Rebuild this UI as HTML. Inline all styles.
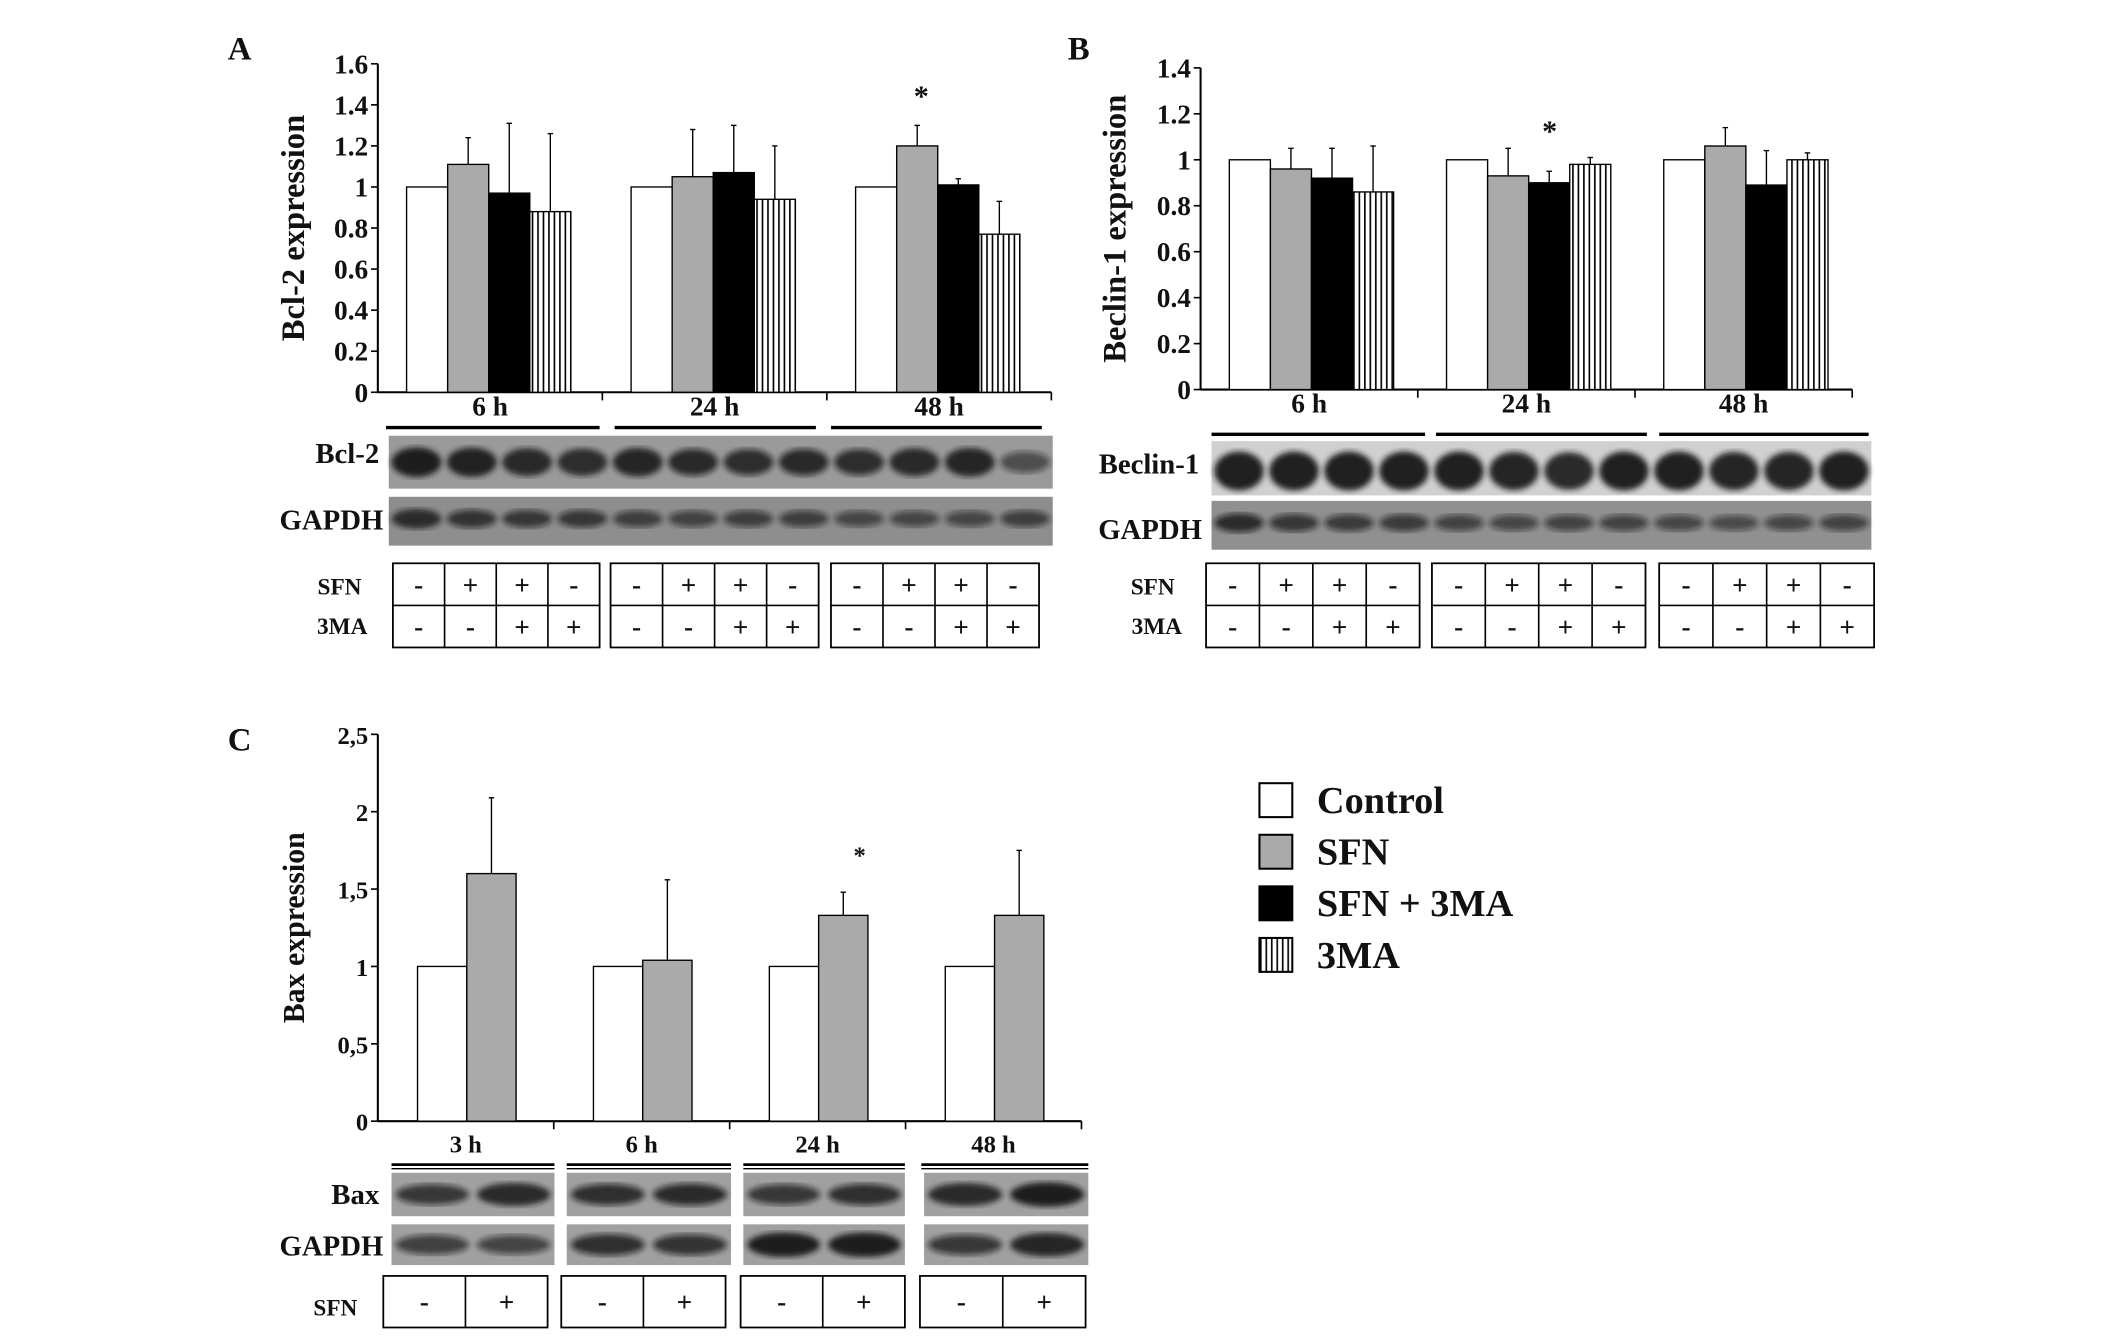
<!DOCTYPE html>
<html><head><meta charset="utf-8">
<style>
html,body{margin:0;padding:0;background:#fff;}
svg{display:block;}
text{font-family:"Liberation Serif",serif;font-weight:bold;fill:#111;}
</style></head>
<body>
<svg id="fig" width="2126" height="1337" viewBox="0 0 1553 985" preserveAspectRatio="none" xmlns="http://www.w3.org/2000/svg">
<defs>
<pattern id="hatch" patternUnits="userSpaceOnUse" width="4" height="10">
<rect width="4" height="10" fill="#fff"/><line x1="1" y1="0" x2="1" y2="10" stroke="#000" stroke-width="1.2"/>
</pattern>
<filter id="blur"><feGaussianBlur stdDeviation="2.2"/></filter>
</defs>
<g id="root"></g>
</svg>
<script>
// ---- data ----
const groupsA = ["6  h","24  h","48  h"];
const meansA = [[1,1.11,0.97,0.88],[1,1.05,1.07,0.94],[1,1.20,1.01,0.77]];
const errTopA = [[null,1.24,1.31,1.26],[null,1.28,1.30,1.20],[null,1.30,1.04,0.93]];
const ticksA = ["0","0.2","0.4","0.6","0.8","1","1.2","1.4","1.6"];
const groupsB = ["6  h","24  h","48  h"];
const meansB = [[1,0.96,0.92,0.86],[1,0.93,0.90,0.98],[1,1.06,0.89,1.00]];
const errTopB = [[null,1.05,1.05,1.06],[null,1.05,0.95,1.01],[null,1.14,1.04,1.03]];
const ticksB = ["0","0.2","0.4","0.6","0.8","1","1.2","1.4"];
const groupsC = ["3  h","6  h","24  h","48  h"];
const meansC = [[1,1.60],[1,1.04],[1,1.33],[1,1.33]];
const errTopC = [[null,2.09],[null,1.56],[null,1.48],[null,1.75]];
const ticksC = ["0","0,5","1","1,5","2","2,5"];
const legendLabels = ["Control","SFN","SFN + 3MA","3MA"];
const sfnRow4 = ["-","+","+","-"], maRow4 = ["-","-","+","+"];

const NS="http://www.w3.org/2000/svg";
const root=document.getElementById('root');
function mk(tag,attrs,parent){const e=document.createElementNS(NS,tag);for(const k in attrs)e.setAttribute(k,attrs[k]);(parent||root).appendChild(e);return e;}
function txt(x,y,s,size,anchor,parent){const t=mk('text',{x:x,y:y,'font-size':size,'text-anchor':anchor||'middle'},parent);t.textContent=s;return t;}
const fills=["#fff","#aaa","#000","url(#hatch)"];

function chart(o){
  const g=mk('g',{});
  
  
  const ymax=parseFloat(o.ticks[o.ticks.length-1].replace(',','.'));
  const Y=v=>o.y0-(v/ymax)*(o.y0-o.ytop);
  const ax=mk('line',{x1:o.x0,y1:o.ytop,x2:o.x0,y2:o.y0,stroke:'#000','stroke-width':1.5},g);
  
  
  const xa=mk('line',{x1:o.x0,y1:o.y0,x2:o.x1,y2:o.y0,stroke:'#000','stroke-width':1.5},g);
  
  
  o.ticks.forEach(t=>{const v=parseFloat(t.replace(',','.'));const y=Y(v);
    mk('line',{x1:o.x0-5,y1:y,x2:o.x0,y2:y,stroke:'#000','stroke-width':1.2},g);
    const tl=txt(o.x0-7,y+7,t,o.tickSize,'end',g);
    
    
  });
  const n=o.groups.length, gw=(o.x1-o.x0)/n;
  for(let i=1;i<=n;i++){mk('line',{x1:o.x0+gw*i,y1:o.y0,x2:o.x0+gw*i,y2:o.y0+6,stroke:'#000','stroke-width':1.2},g);}
  o.groups.forEach((lab,i)=>{
    const gx=o.x0+gw*i+o.off;
    o.means[i].forEach((v,j)=>{
      const x=gx+j*o.bw;
      const r=mk('rect',{x:x,y:Y(v),width:o.bw,height:o.y0-Y(v),fill:fills[j],stroke:'#000','stroke-width':1},g);
      
      
      const e=o.err[i][j];
      if(e!==null){const cx=x+o.bw/2;
        mk('line',{x1:cx,y1:Y(v),x2:cx,y2:Y(e),stroke:'#000','stroke-width':1},g);
        mk('line',{x1:cx-2,y1:Y(e),x2:cx+2,y2:Y(e),stroke:'#000','stroke-width':1},g);}
    });
    const gl=txt(o.x0+gw*i+gw/2,o.labY,lab,o.tickSize,'middle',g);
    
    
  });
  if(o.star){const s=txt(o.star[0],o.star[1],'*',o.starSize||22,'middle',g);
    
    }
  const yt=txt(0,0,o.title,o.titleSize,'middle',g);
  yt.setAttribute('transform','translate('+o.titleX+','+((o.ytop+o.y0)/2)+') rotate(-90)');
  
  
}

function blot(x,y,w,h,lanes,bandY,strength,name,bg){
  const g=mk('g',{});
  
  
  mk('rect',{x:x,y:y,width:w,height:h,fill:bg||'#8e8e8e'},g);
  const lw=w/lanes.length;
  lanes.forEach((s,i)=>{
    mk('ellipse',{cx:x+lw*i+lw/2,cy:y+h*bandY,rx:lw*0.45,ry:h*strength*(0.6+0.4*s),fill:'rgba(20,20,20,'+(0.4+0.55*s)+')',filter:'url(#blur)'},g);
  });
}

function table(groupsX,y,h,rows,name){
  const g=mk('g',{});
  
  
  const rh=h/rows.length;
  groupsX.forEach(([x0,x1])=>{
    mk('rect',{x:x0,y:y,width:x1-x0,height:h,fill:'none',stroke:'#000','stroke-width':1.3},g);
    const n=rows[0].length, cw=(x1-x0)/n;
    for(let k=1;k<n;k++)mk('line',{x1:x0+cw*k,y1:y,x2:x0+cw*k,y2:y+h,stroke:'#000','stroke-width':1.2},g);
    for(let r=1;r<rows.length;r++)mk('line',{x1:x0,y1:y+rh*r,x2:x1,y2:y+rh*r,stroke:'#000','stroke-width':1.2},g);
    rows.forEach((row,r)=>row.forEach((s,k)=>txt(x0+cw*k+cw/2,y+rh*r+rh/2+7,s,20,'middle',g)));
  });
}

// Panel A
txt(175,44,'A',24,'middle');
chart({name:'chart-bcl2',groups:groupsA,means:meansA,err:errTopA,ticks:ticksA,x0:276,x1:768,ytop:47,y0:289,off:21,bw:30,labY:306,tickSize:20,title:'Bcl-2 expression',titleSize:24,titleX:222,star:[673,78]});
[[282,438],[449,596],[607,761]].forEach(([a,b])=>mk('line',{x1:a,y1:315,x2:b,y2:315,stroke:'#000','stroke-width':2.5}));
blot(284,321,485,39,[1,0.95,0.85,0.8,0.9,0.75,0.7,0.75,0.7,0.85,0.9,0.3],0.5,0.28,'blot-bcl2','#9a9a9a');
blot(284,366,485,36,[0.8,0.6,0.55,0.55,0.45,0.4,0.45,0.45,0.35,0.35,0.35,0.45],0.45,0.22,'blot-gapdh-a');
txt(277,341,'Bcl-2',21,'end');
txt(280,390,'GAPDH',21,'end');
table([[287,438],[446,598],[607,759]],415,62,[sfnRow4,maRow4],'table-a');
txt(248,438,'SFN',17,'middle');
txt(250,467,'3MA',17,'middle');

// Panel B
txt(788,44,'B',24,'middle');
chart({name:'chart-beclin1',groups:groupsB,means:meansB,err:errTopB,ticks:ticksB,x0:877,x1:1353,ytop:50,y0:287,off:21,bw:30,labY:304,tickSize:20,title:'Beclin-1 expression',titleSize:24,titleX:822,star:[1132,104]});
[[885,1041],[1049,1203],[1212,1365]].forEach(([a,b])=>mk('line',{x1:a,y1:320,x2:b,y2:320,stroke:'#000','stroke-width':2.5}));
blot(885,325,482,40,[1,1,1,1,1,0.95,0.9,1,1,0.95,0.95,1],0.55,0.36,'blot-beclin1','#d0d0d0');
blot(885,369,482,36,[0.7,0.55,0.5,0.5,0.4,0.35,0.4,0.4,0.35,0.3,0.35,0.4],0.45,0.22,'blot-gapdh-b','#909090');
txt(876,349,'Beclin-1',21,'end');
txt(878,397,'GAPDH',21,'end');
table([[881,1037],[1046,1202],[1212,1369]],415,62,[sfnRow4,maRow4],'table-b');
txt(842,438,'SFN',17,'middle');
txt(845,467,'3MA',17,'middle');

// Panel C
txt(175,553,'C',24,'middle');
chart({name:'chart-bax',groups:groupsC,means:meansC,err:errTopC,ticks:ticksC,x0:276,x1:790,ytop:541,y0:826,off:29,bw:36,labY:849,tickSize:18,title:'Bax expression',titleSize:22,titleX:222,star:[628,636],starSize:18});
[[286,405],[414,534],[543,661],[673,795]].forEach(([a,b])=>{mk('line',{x1:a,y1:858,x2:b,y2:858,stroke:'#000','stroke-width':2});mk('line',{x1:a,y1:861,x2:b,y2:861,stroke:'#000','stroke-width':1});});
[[286,405,[0.6,0.85]],[414,534,[0.7,0.75]],[543,661,[0.6,0.7]],[675,795,[0.85,1]]].forEach(([a,b,l])=>blot(a,864,b-a,32,l,0.5,0.28,'blot-bax','#a0a0a0'));
[[286,405,[0.5,0.45]],[414,534,[0.7,0.65]],[543,661,[1,1]],[675,795,[0.6,0.9]]].forEach(([a,b,l])=>blot(a,902,b-a,30,l,0.5,0.3,'blot-gapdh-c','#a0a0a0'));
txt(277,887,'Bax',21,'end');
txt(280,925,'GAPDH',21,'end');
table([[280,400],[410,530],[541,661],[672,793]],940,38,[["-","+"]],'table-c');
txt(245,969,'SFN',17,'middle');

// Legend
const leg=mk('g',{});


legendLabels.forEach((s,i)=>{
  const y=577+i*38;
  const r=mk('rect',{x:920,y:y,width:24,height:25,fill:fills[i],stroke:'#000','stroke-width':1.5},leg);
  
  
  const t=txt(962,y+22,s,28,'start',leg);
  
  
});
</script>
</body></html>
